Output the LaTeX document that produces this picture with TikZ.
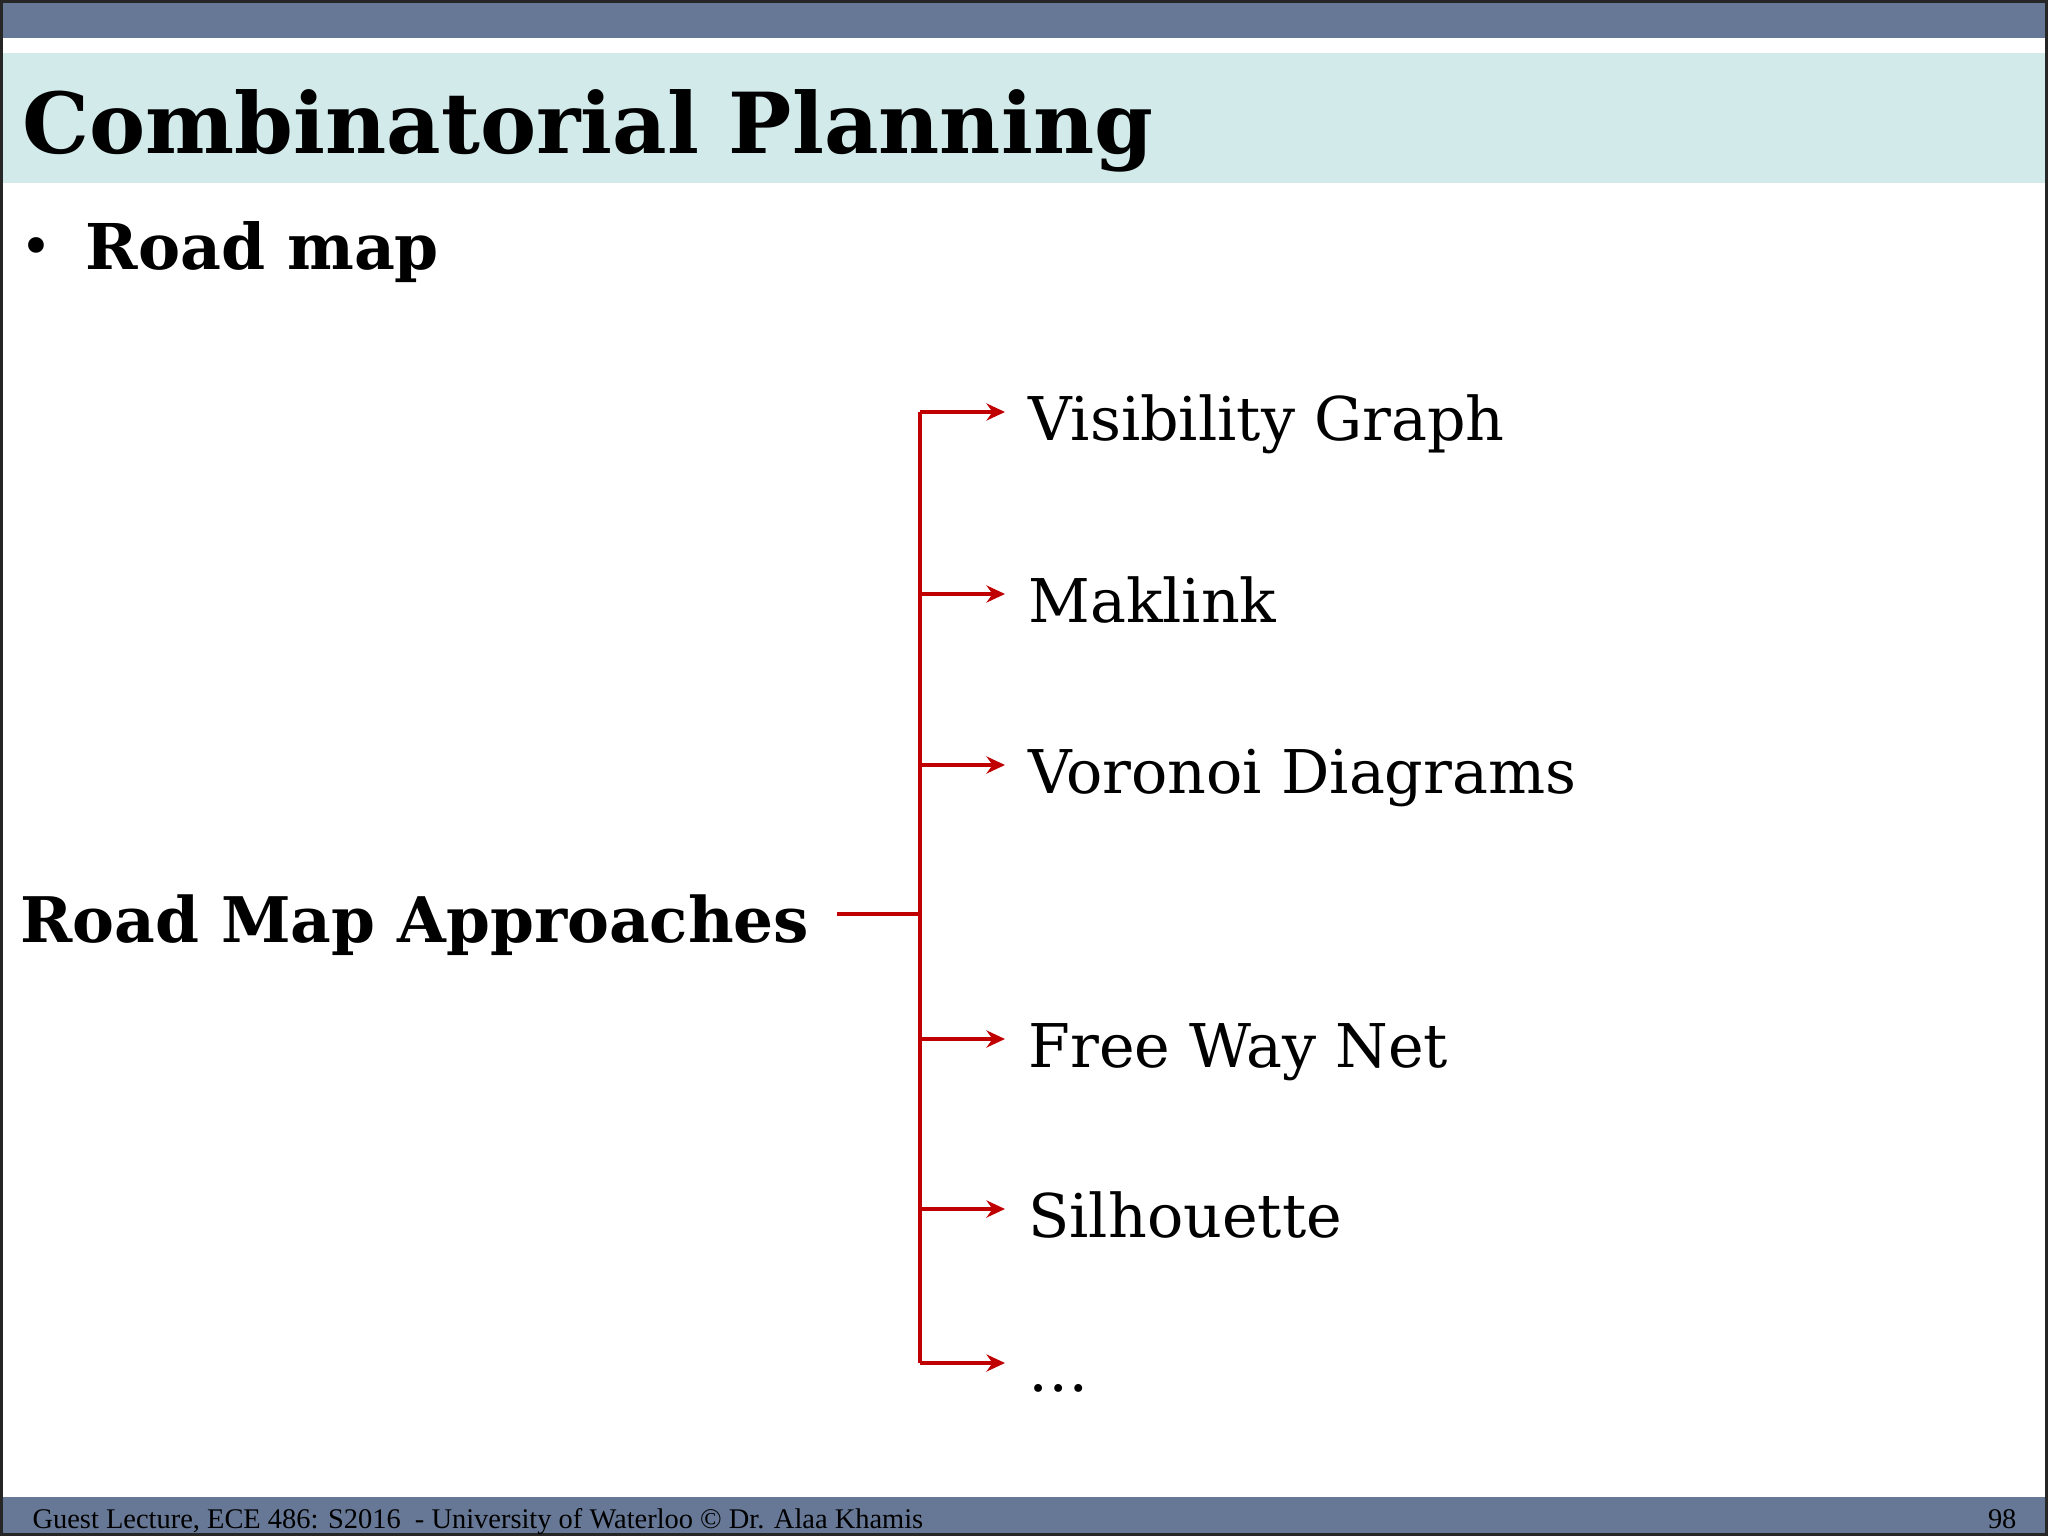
\documentclass[tikz,border=0pt]{standalone}
\usepackage{fontspec}
\setmainfont{DejaVu Serif}
\newfontfamily\footfont{Liberation Serif}
\usetikzlibrary{arrows.meta,positioning}
\definecolor{barblue}{RGB}{103,120,150}
\definecolor{titlecyan}{RGB}{210,234,234}
\definecolor{branchred}{RGB}{192,0,0}

\begin{document}
\begin{tikzpicture}[x=0.3515625pt,y=0.3515625pt,yscale=-1,xscale=1,
  item/.style={font=\fontsize{21.2}{25}\selectfont, text height=23.7pt, text depth=4pt, inner xsep=8pt, inner ysep=0pt},
  branch/.style={draw=branchred, line width=1.6pt},
  tip/.style={branch, -{Stealth[length=6.5pt,width=6pt]}}]
\useasboundingbox (0,0) rectangle (2048,1536);

%Shape: Rectangle [id:top bar]
\fill[barblue] (0,0) rectangle (2048,38);
%Shape: Rectangle [id:title band]
\fill[titlecyan] (0,53) rectangle (2048,183);
%Shape: Rectangle [id:footer bar]
\fill[barblue] (0,1497) rectangle (2048,1533);
%Shape: Rectangle [id:frame]
\draw[black!85, line width=1.5pt] (1,1) rectangle (2047,1535);

% Text Node
\node[anchor=base west, inner sep=0pt, font=\fontsize{29.6}{34}\selectfont\bfseries] (title) at (22,154) {Combinatorial Planning};
% Text Node
\node[anchor=base west, inner sep=0pt, font=\fontsize{19}{22}\selectfont] (bullet) at (20,266) {•};
% Text Node
\node[anchor=base west, inner sep=0pt, font=\fontsize{22.2}{26}\selectfont\bfseries] (roadmap) at (85,270) {Road map};

% Text Node
\node[item, anchor=east, font=\fontsize{22.1}{26}\selectfont\bfseries, inner xsep=9.5pt] (approaches) at (837,914) {Road Map Approaches};
% Text Node
\node[item, anchor=west] (vis) at (1005,412) {Visibility Graph};
% Text Node
\node[item, anchor=west] (mak) at (1005,594) {Maklink};
% Text Node
\node[item, anchor=west] (vor) at (1005,765) {Voronoi Diagrams};
% Text Node
\node[item, anchor=west] (free) at (1005,1039) {Free Way Net};
% Text Node
\node[item, anchor=west] (sil) at (1005,1209) {Silhouette};
% Text Node
\node[item, anchor=west] (more) at (1005,1363) {\dots};

%Straight Lines [id:spine]
\coordinate (spinetop) at (920,412);
\coordinate (spinebot) at (920,1363);
\draw[branch] (spinetop) -- (spinebot);
%Straight Lines [id:stub]
\draw[branch] (approaches.east) -- (approaches.east -| spinetop);

%Straight Lines [id:arrows]
\foreach \n in {vis,mak,vor,free,sil,more}
  \draw[tip] (spinetop |- \n.west) -- (\n.west);

% Text Node
\node[anchor=base west, inner sep=0pt, font=\footfont\fontsize{10}{12}\selectfont] (foot) at (32,1528) {Guest Lecture, ECE 486: S2016\ \ - University of Waterloo © Dr. Alaa Khamis};
% Text Node
\node[anchor=base east, inner sep=0pt, font=\footfont\fontsize{10}{12}\selectfont] (page) at (2017,1528) {98};

\end{tikzpicture}
\end{document}
